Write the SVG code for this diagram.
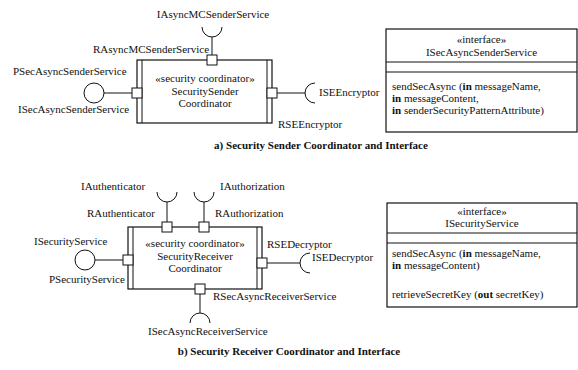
<svg xmlns="http://www.w3.org/2000/svg" width="578" height="370" viewBox="0 0 578 370">
  <style>
    text { font-family: "Liberation Serif", "Times New Roman", serif; font-size: 11px; fill: #111; }
    .c { text-anchor: middle; }
    .cap { font-weight: bold; text-anchor: middle; }
    .b { font-weight: bold; }
    .box { fill: #fff; stroke: #111; stroke-width: 1.2; }
    .ln { fill: none; stroke: #111; stroke-width: 1; }
    .port { fill: #fff; stroke: #111; stroke-width: 1; }
  </style>
  <rect width="578" height="370" fill="#fff"/>

  <!-- a) sender coordinator -->
  <g id="connectors-a">
    <path class="ln" d="M212,37 V55"/>
    <path class="ln" d="M104,93 H132"/>
    <path class="ln" d="M277,93 H305"/>
  </g>
  <g id="securitySenderCoordinator">
    <rect class="box" x="137" y="60" width="135" height="63"/>
    <path class="ln" d="M142,60 V123 M267,60 V123"/>
    <text class="c" x="205" y="82">«security coordinator»</text>
    <text class="c" x="205" y="94.5">SecuritySender</text>
    <text class="c" x="205" y="107">Coordinator</text>
  </g>
  <g id="RAsyncMCSenderService">
    <rect class="port" x="207" y="55" width="10" height="10"/>
    <text x="93" y="53">RAsyncMCSenderService</text>
  </g>
  <g id="IAsyncMCSenderService">
    <path class="ln" d="M202,27 A10,10 0 0 0 222,27"/>
    <text class="c" x="213" y="18">IAsyncMCSenderService</text>
  </g>
  <g id="PSecAsyncSenderService">
    <rect class="port" x="132" y="88" width="10" height="10"/>
    <text x="13" y="75">PSecAsyncSenderService</text>
  </g>
  <g id="ISecAsyncSenderService-provided">
    <circle class="ln" cx="94" cy="93" r="10"/>
    <text x="18" y="113">ISecAsyncSenderService</text>
  </g>
  <g id="RSEEncryptor">
    <rect class="port" x="267" y="88" width="10" height="10"/>
    <text x="278" y="128">RSEEncryptor</text>
  </g>
  <g id="ISEEncryptor">
    <path class="ln" d="M315,83 A10,10 0 0 0 315,103"/>
    <text x="319" y="96">ISEEncryptor</text>
  </g>
  <g id="ISecAsyncSenderService">
    <rect class="box" x="386" y="29" width="191" height="103"/>
    <path class="ln" d="M386,62 H577 M386,72 H577"/>
    <text class="c" x="481.5" y="43">«interface»</text>
    <text class="c" x="481.5" y="56">ISecAsyncSenderService</text>
    <text x="392" y="90">sendSecAsync (<tspan class="b">in</tspan> messageName,</text>
    <text x="392" y="102"><tspan class="b">in</tspan> messageContent,</text>
    <text x="392" y="114"><tspan class="b">in</tspan> senderSecurityPatternAttribute)</text>
  </g>
  <text class="cap" x="321" y="149">a) Security Sender Coordinator and Interface</text>

  <!-- b) receiver coordinator -->
  <g id="connectors-b">
    <path class="ln" d="M167,202 V222"/>
    <path class="ln" d="M204,202 V222"/>
    <path class="ln" d="M95,260 H123"/>
    <path class="ln" d="M200,294 V313"/>
    <path class="ln" d="M267,263 H300"/>
  </g>
  <g id="securityReceiverCoordinator">
    <rect class="box" x="128" y="227" width="134" height="62"/>
    <path class="ln" d="M133,227 V289 M257,227 V289"/>
    <text class="c" x="195" y="247">«security coordinator»</text>
    <text class="c" x="195" y="260">SecurityReceiver</text>
    <text class="c" x="195" y="272">Coordinator</text>
  </g>
  <g id="RAuthenticator">
    <rect class="port" x="162" y="222" width="10" height="10"/>
    <text x="87" y="217">RAuthenticator</text>
  </g>
  <g id="IAuthenticator">
    <path class="ln" d="M157,192 A10,10 0 0 0 177,192"/>
    <text x="81" y="190">IAuthenticator</text>
  </g>
  <g id="RAuthorization">
    <rect class="port" x="199" y="222" width="10" height="10"/>
    <text x="215" y="217">RAuthorization</text>
  </g>
  <g id="IAuthorization">
    <path class="ln" d="M194,192 A10,10 0 0 0 214,192"/>
    <text x="220" y="190">IAuthorization</text>
  </g>
  <g id="PSecurityService">
    <rect class="port" x="123" y="255" width="10" height="10"/>
    <text x="49" y="283">PSecurityService</text>
  </g>
  <g id="ISecurityService-provided">
    <circle class="ln" cx="85" cy="260" r="10"/>
    <text x="34" y="245">ISecurityService</text>
  </g>
  <g id="RSecAsyncReceiverService">
    <rect class="port" x="195" y="284" width="10" height="10"/>
    <text x="213" y="300">RSecAsyncReceiverService</text>
  </g>
  <g id="ISecAsyncReceiverService">
    <path class="ln" d="M190,323 A10,10 0 0 1 210,323"/>
    <text x="148" y="335">ISecAsyncReceiverService</text>
  </g>
  <g id="RSEDecryptor">
    <rect class="port" x="257" y="258" width="10" height="10"/>
    <text x="267" y="248">RSEDecryptor</text>
  </g>
  <g id="ISEDecryptor">
    <path class="ln" d="M310,253 A10,10 0 0 0 310,273"/>
    <text x="312" y="261">ISEDecryptor</text>
  </g>
  <g id="ISecurityService">
    <rect class="box" x="387" y="203" width="190" height="104"/>
    <path class="ln" d="M387,233 H577 M387,243 H577"/>
    <text class="c" x="482" y="215">«interface»</text>
    <text class="c" x="482" y="227">ISecurityService</text>
    <text x="392" y="257">sendSecAsync (<tspan class="b">in</tspan> messageName,</text>
    <text x="392" y="269"><tspan class="b">in</tspan> messageContent)</text>
    <text x="392" y="298">retrieveSecretKey (<tspan class="b">out</tspan> secretKey)</text>
  </g>
  <text class="cap" x="289" y="355">b) Security Receiver Coordinator and Interface</text>
</svg>
